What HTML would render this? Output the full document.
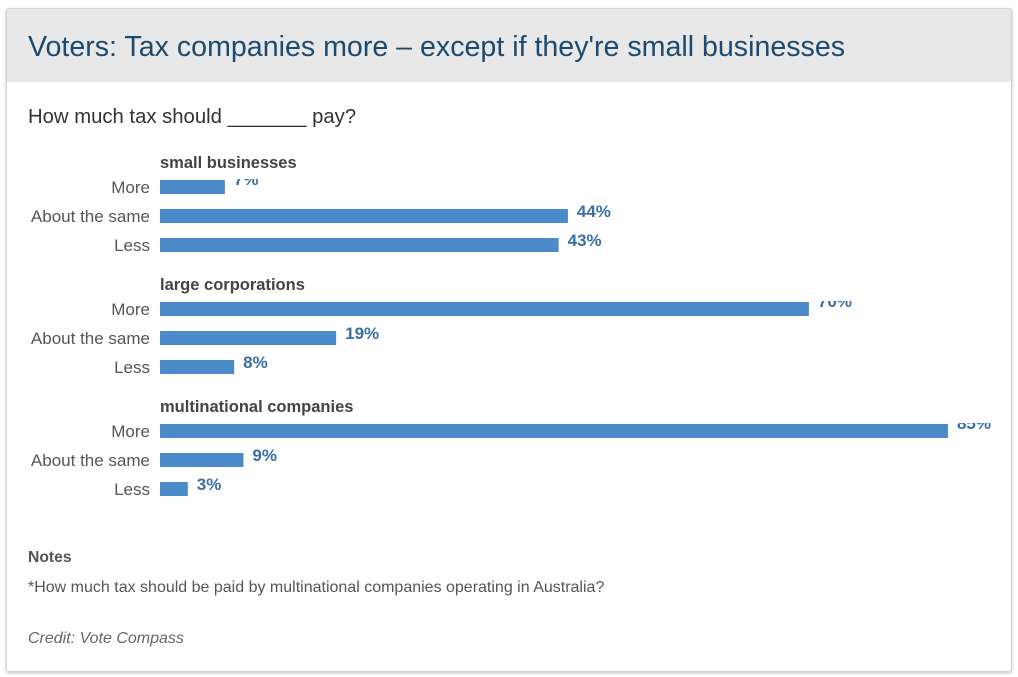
<!DOCTYPE html>
<html><head><meta charset="utf-8"><style>
body{margin:0;width:1018px;height:677px;background:#fff;font-family:"Liberation Sans",Arial,sans-serif;overflow:hidden}
.card{position:absolute;left:6px;top:8px;width:1004px;height:662px;border:1px solid #d4d4d4;border-radius:3px;box-shadow:0 1px 3px rgba(0,0,0,.25);background:#fff;overflow:hidden}
.hdr{position:absolute;left:0;top:0;width:100%;height:73px;background:#e8e8e8}
.hdr h1{margin:0;position:absolute;left:21px;top:22px;font-size:28.6px;font-weight:normal;color:#1c4a70;white-space:nowrap}
.sub{position:absolute;left:21px;top:97px;font-size:20.3px;color:#333}
svg{position:absolute;left:0;top:0}
.notes{position:absolute;left:21px;top:540px;font-size:15.7px;font-weight:bold;color:#555}
.note{position:absolute;left:21px;top:570px;font-size:16px;color:#555;white-space:nowrap}
.credit{position:absolute;left:21px;top:621px;font-size:16px;font-style:italic;color:#666}
</style></head><body>
<div class="card">
<div class="hdr"><h1>Voters: Tax companies more – except if they're small businesses</h1></div>
<div class="sub">How much tax should _______ pay?</div>
<div class="notes">Notes</div>
<div class="note">*How much tax should be paid by multinational companies operating in Australia?</div>
<div class="credit">Credit: Vote Compass</div>
</div>
<svg id="chart" width="1018" height="677"></svg>
<script>
const groups=["small businesses","large corporations","multinational companies"];
const categories=["More","About the same","Less"];
const smallBiz=[7,44,43];
const largeCorp=[70,19,8];
const multinat=[85,9,3];
const series=[smallBiz,largeCorp,multinat];
const NS="http://www.w3.org/2000/svg";
const svg=document.getElementById('chart');
const x0=160,pxPer=9.27;
function xs(v){return x0+v*pxPer;}
function mk(t,a,txt){const e=document.createElementNS(NS,t);for(const k in a)e.setAttribute(k,a[k]);if(txt!==undefined)e.textContent=txt;svg.appendChild(e);return e;}
groups.forEach((g,gi)=>{
  const gy=150+gi*122;
  const t=mk('text',{x:160,y:gy+18,'font-size':16.5,'font-weight':'bold',fill:'#444'},g);
  
  
  categories.forEach((c,ci)=>{
    const by=gy+30+ci*29;
    const l=mk('text',{x:150,y:by+13,'font-size':17,fill:'#555','text-anchor':'end'},c);
    
    
    const v=series[gi][ci];
    const r=mk('rect',{x:x0,y:by,width:xs(v)-x0,height:14,fill:'#4a8ac9'});
    
    
    const cp='clip'+gi+ci;
    const cpEl=mk('clipPath',{id:cp});
    const cr=document.createElementNS(NS,'rect');
    cr.setAttribute('x',0);cr.setAttribute('y',ci===0?by-1:0);cr.setAttribute('width',1018);cr.setAttribute('height',677);
    cpEl.appendChild(cr);
    const vl=mk('text',{x:xs(v)+9,y:by+(ci===0?5:8),'font-size':17,'font-weight':'bold',fill:'#3a6fa5','clip-path':'url(#'+cp+')'},v+'%');
    
    
  });
});
</script>
</body></html>
